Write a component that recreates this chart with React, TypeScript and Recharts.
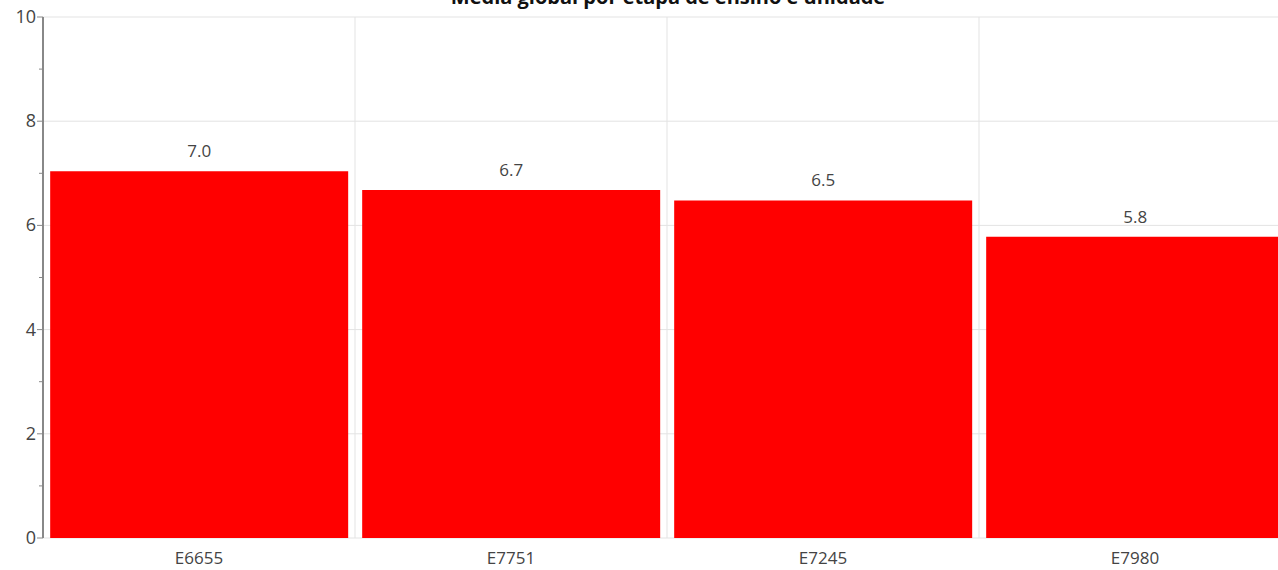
import React from 'react';
import { BarChart, Bar, XAxis, YAxis, CartesianGrid, LabelList } from 'recharts';

const units = ['E6655', 'E7751', 'E7245', 'E7980'];
const averages = [7.04, 6.68, 6.48, 5.78];
const yTicks = [0, 1, 2, 3, 4, 5, 6, 7, 8, 9, 10];
const yMajor = [0, 2, 4, 6, 8, 10];

const data = units.map((unit, i) => ({ unit, media: averages[i] }));

const YTick = (props: any) => {
  const { x, y, payload } = props;
  const major = yMajor.includes(payload.value);
  return (
    <g>
      <line x1={x - (major ? 6 : 4)} x2={x} y1={y} y2={y} stroke="#888" strokeWidth={1} />
      {major && (
        <text x={x - 7} y={y} dy={6} textAnchor="end" fontSize={18} fill="#444">
          {payload.value}
        </text>
      )}
    </g>
  );
};

const App: React.FC = () => {
  return (
    <div style={{ position: 'absolute', left: 0, top: 0, width: 1278, height: 570, overflow: 'hidden', fontFamily: '"Open Sans", sans-serif' }}>
      <BarChart
        width={1291}
        height={570}
        data={data}
        margin={{ top: 17, right: 0, left: 0, bottom: 2 }}
        barCategoryGap="2.3%"
      >
        <text x={668} y={4} textAnchor="middle" fontSize={20} fontWeight="bold" fill="#111">
          Média global por etapa de ensino e unidade
        </text>
        <CartesianGrid
          stroke="#e3e3e3"
          horizontalValues={yMajor}
          verticalCoordinatesGenerator={({ offset }: any) =>
            units.map((_, i) => offset.left + (i + 1) * (offset.width / units.length))
          }
        />
        <XAxis
          dataKey="unit"
          axisLine={false}
          tickLine={false}
          height={30}
          tickMargin={8}
          tick={{ fontSize: 17, fill: '#444' }}
        />
        <YAxis
          domain={[0, 10]}
          ticks={yTicks}
          interval={0}
          width={43}
          tickSize={0}
          tickMargin={0}
          axisLine={{ stroke: '#888', strokeWidth: 2 }}
          tick={<YTick />}
        />
        <Bar dataKey="media" fill="#ff0000" isAnimationActive={false}>
          <LabelList
            dataKey="media"
            position="top"
            offset={14}
            formatter={(v: any) => Number(v).toFixed(1)}
            style={{ fontSize: 17, fill: '#444' }}
          />
        </Bar>
      </BarChart>
    </div>
  );
};

export default App;
